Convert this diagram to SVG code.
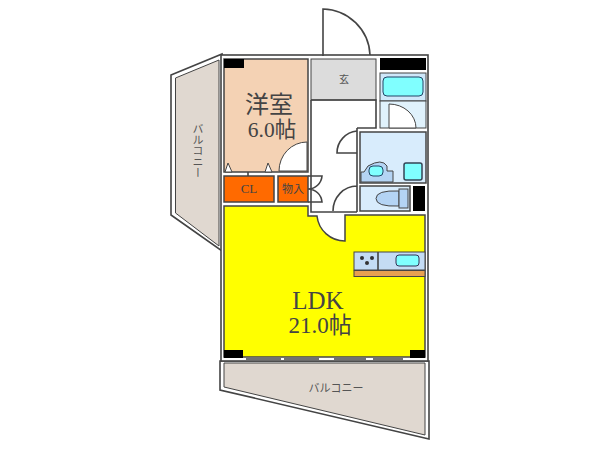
<svg xmlns="http://www.w3.org/2000/svg" width="600" height="450" viewBox="0 0 600 450">
<style>
.l{stroke:#444;stroke-width:1.6;fill:none}
.t{font-family:"Noto Sans CJK JP","Liberation Sans",sans-serif;fill:#555}
.s{font-family:"Liberation Serif","Noto Sans CJK JP",serif;fill:#444}
.w{fill:#fff;stroke:#444;stroke-width:1.6}
.b{fill:#000}
</style>
<rect width="600" height="450" fill="#fff"/>
<g id="balcony-west">
<path class="w" d="M171 75L222 54V251L171 215Z"/>
<path d="M175.500 78L219 60V246L175.500 213Z" fill="#e0d8d0" stroke="#444"/>
<text class="t" font-size="11" x="198" y="123" style="writing-mode:vertical-rl">バルコニー</text>
</g>
<g id="balcony-south">
<path class="w" d="M220 361H429V439L220 390Z"/>
<path d="M224 363H425V435L224 387Z" fill="#e0d8d0" stroke="#444"/>
<text class="t" font-size="11" x="336" y="392" text-anchor="middle">バルコニー</text>
</g>
<g id="shell"><rect x="221" y="55" width="207" height="306" fill="#fff" stroke="#444" stroke-width="1.6"/></g>
<g id="ldk">
<path d="M224 206H308V216H317A28 28 0 0 0 345 241V215H425V357H224Z" fill="#ffff00" stroke="#444" stroke-width="1.5"/>
<rect class="b" x="224" y="350" width="19" height="8"/><rect class="b" x="410" y="350" width="15" height="8"/>
<text class="s" font-size="25" x="318" y="309" text-anchor="middle">LDK</text>
<text class="s" font-size="23" x="320" y="333" text-anchor="middle">21.0帖</text>
</g>
<g id="kitchen">
<rect x="354" y="252" width="71" height="18" fill="#c4dcf4" stroke="#444"/>
<rect x="354" y="270.500" width="71" height="6" fill="#e8a050" stroke="#444"/>
<path class="l" d="M378 252V270" stroke-width="1"/>
<rect x="396" y="255" width="23" height="11" rx="3" fill="#80ffff" stroke="#335"/>
<circle cx="362" cy="258" r="2" fill="#333"/><circle cx="372" cy="258" r="2" fill="#333"/><circle cx="367" cy="263" r="2" fill="#333"/>
</g>
<g id="yoshitsu">
<rect x="224" y="59" width="84" height="113" fill="#f4d2b4" stroke="#444" stroke-width="1.5"/>
<rect class="b" x="224" y="59" width="20" height="9"/>
<path d="M279 171A28 29 0 0 1 307 142V171Z" fill="#fff" stroke="#444"/>
<path d="M225 172L228 163L232 172ZM265 172L268 163L272 172Z" fill="#fff" stroke="#444"/>
<text class="s" font-size="24" x="269" y="113" text-anchor="middle">洋室</text>
<text class="s" font-size="21.500" x="272" y="137" text-anchor="middle">6.0帖</text>
<path class="l" d="M248 172V176" stroke-width="1"/>
</g>
<g id="cl"><rect x="224" y="176" width="50" height="26" fill="#ff6a00" stroke="#444" stroke-width="1.5"/><text class="s" font-size="13" x="249" y="193" text-anchor="middle">CL</text></g>
<g id="storage"><rect x="278" y="176" width="30" height="26" fill="#ff6a00" stroke="#444" stroke-width="1.5"/><text class="t" font-size="11" x="293" y="193" text-anchor="middle" style="fill:#444">物入</text></g>
<g id="doors-storage"><path class="l" d="M308 176H322A14 14 0 0 1 308 189A14 14 0 0 1 322 202H308"/></g>
<g id="genkan"><rect x="311" y="59" width="65" height="41" fill="#dcdcdc" stroke="#444"/><text class="t" font-size="10" x="344" y="83" text-anchor="middle">玄</text></g>
<g id="corridor"><path class="l" d="M311 100V212H357M311 100H376V128H357"/></g>
<g id="entry-door"><path class="l" d="M323 56V9A48 48 0 0 1 370 55"/></g>
<g id="bath">
<rect class="b" x="380" y="58" width="46" height="12"/>
<rect x="380" y="73" width="46" height="28" fill="#cfe8fa" stroke="#444"/>
<rect x="383" y="77" width="40" height="19" rx="4" fill="#80ffff" stroke="#246"/>
<rect x="380" y="101" width="46" height="27" fill="#e0f2fc" stroke="#444"/>
<path d="M389 128V104A27 24 0 0 1 416 128Z" fill="#fff" stroke="#444"/>
</g>
<g id="washroom">
<rect x="360" y="132" width="66" height="51" fill="#d8ecfc" stroke="#444" stroke-width="1.5"/>
<path d="M361 172H364L368 166Q382 158 387 166V171H393V182H361Z" fill="#b4d4f4" stroke="#444"/>
<rect x="369" y="166" width="14" height="10" rx="4" fill="#80ffff" stroke="#246"/>
<rect x="404" y="163" width="18" height="17" rx="2" fill="#80ffff" stroke="#345" stroke-width="1.500"/>
<path class="l" d="M357 131A22 22 0 0 0 337 153H357"/>
</g>
<g id="toilet">
<rect x="360" y="186" width="50" height="25" fill="#d8ecfc" stroke="#444" stroke-width="1.5"/>
<rect class="b" x="413" y="186" width="12" height="25"/>
<path d="M399 191Q376 190 376 198.500Q376 207 399 206Z" fill="#b4d4f4" stroke="#444"/>
<rect x="399" y="189" width="9" height="19" fill="#b4d4f4" stroke="#444"/>
<path class="l" d="M357 186A24 25 0 0 0 333 211M357 128V212"/>
</g>
<g id="sash"><path class="l" d="M246 359H281M284 359H319M334 359H366M373 359H403"/></g>
</svg>
